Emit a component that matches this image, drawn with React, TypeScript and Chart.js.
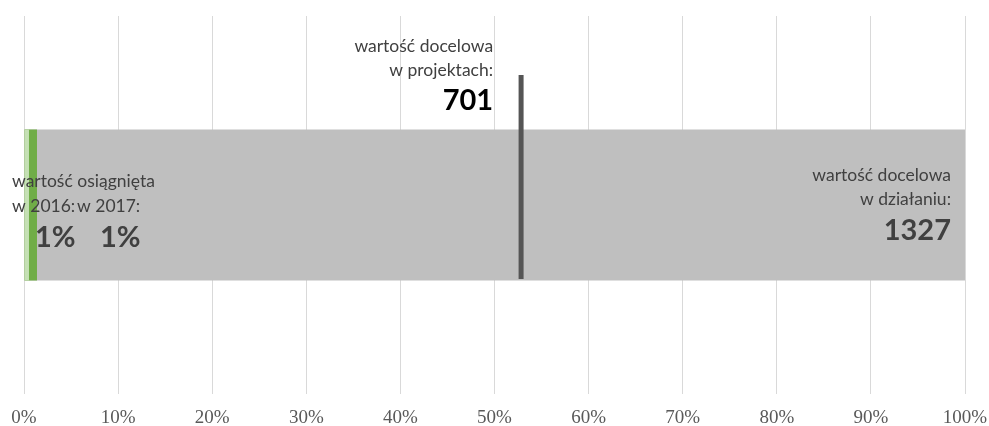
import React, { useEffect, useRef } from "react";
import { Chart, registerables } from "chart.js";

Chart.register(...registerables);

const categories = ["wskaźnik"];
const targetShare = [100];
const achieved2016 = [0.53];
const achieved2017 = [1.38];
const targetAction = 1327;
const targetProject = 701;
const projectShare = (targetProject / targetAction) * 100;
const markerX = [projectShare, projectShare];
const markerY = [0.304, 0.844];
const tickValues = [0, 10, 20, 30, 40, 50, 60, 70, 80, 90, 100];
const label2016 = "1%";
const label2017 = "1%";

const TEXT = "#404040";
const SANS = "Lato, 'Open Sans', sans-serif";

const labelPlugin = {
  id: "labels",
  afterDatasetsDraw(chart: any) {
    const { ctx } = chart;
    const x = chart.scales.x;
    ctx.save();
    ctx.fillStyle = TEXT;
    ctx.textBaseline = "middle";
    // project target
    const px = x.getPixelForValue(projectShare) - 28;
    ctx.textAlign = "right";
    ctx.font = `17.5px ${SANS}`;
    ctx.fillText("wartość docelowa", px, 46);
    ctx.fillText("w projektach:", px, 70);
    ctx.fillStyle = "#000";
    ctx.font = `bold 29px ${SANS}`;
    ctx.fillText(String(targetProject), px, 101);
    // action target
    ctx.fillStyle = TEXT;
    const rx = x.getPixelForValue(100) - 14;
    ctx.font = `17.5px ${SANS}`;
    ctx.fillText("wartość docelowa", rx, 175);
    ctx.fillText("w działaniu:", rx, 199);
    ctx.font = `bold 29px ${SANS}`;
    ctx.fillText(String(targetAction), rx, 231);
    // achieved
    ctx.textAlign = "left";
    const lx = x.getPixelForValue(0) - 12;
    ctx.font = `17.5px ${SANS}`;
    ctx.fillText("wartość osiągnięta", lx, 181);
    ctx.fillText("w 2016:", lx, 206);
    ctx.fillText("w 2017:", lx + 65, 206);
    ctx.font = `bold 29px ${SANS}`;
    ctx.fillText(label2016, lx + 23, 238);
    ctx.fillText(label2017, lx + 88, 238);
    ctx.restore();
  },
};

export default function App() {
  const ref = useRef<HTMLCanvasElement>(null);
  useEffect(() => {
    if (!ref.current) return;
    const chart = new Chart(ref.current, {
      type: "bar",
      data: {
        labels: categories,
        datasets: [
          {
            type: "line",
            data: markerX.map((v, i) => ({ x: v, y: markerY[i] })),
            xAxisID: "x",
            yAxisID: "y2",
            borderColor: "#555555",
            borderWidth: 5,
            pointRadius: 0,
            indexAxis: "x",
          } as any,
          {
            data: achieved2016,
            backgroundColor: "#c5e0b4",
            grouped: false,
            categoryPercentage: 1,
            barPercentage: 0.4,
          } as any,
          {
            data: achieved2017,
            backgroundColor: "#70ad47",
            grouped: false,
            categoryPercentage: 1,
            barPercentage: 0.4,
          } as any,
          {
            data: targetShare,
            backgroundColor: "#bfbfbf",
            grouped: false,
            categoryPercentage: 1,
            barPercentage: 0.4,
          } as any,
        ],
      },
      options: {
        indexAxis: "y",
        animation: false,
        responsive: true,
        maintainAspectRatio: false,
        layout: { padding: { left: 24, right: 24, top: 16, bottom: 0 } },
        plugins: { legend: { display: false }, tooltip: { enabled: false } },
        scales: {
          x: {
            type: "linear",
            min: 0,
            max: 100,
            offset: false,
            afterBuildTicks: (s: any) => {
              s.ticks = tickValues.map((v) => ({ value: v }));
            },
            afterFit: (s: any) => {
              s.height = 32;
              s.paddingLeft = 0;
              s.paddingRight = 0;
            },
            ticks: {
              callback: (v: any) => v + "%",
              color: "#595959",
              font: { family: "'Liberation Serif', serif", size: 19 },
              padding: 13,
            },
            grid: { color: "#d9d9d9", lineWidth: 1, drawTicks: false },
            border: { display: false },
          },
          y: { display: false },
          y2: {
            type: "linear",
            position: "left",
            min: 0,
            max: 1,
            offset: false,
            grace: 0,
            display: false,
          },
        },
      } as any,
      plugins: [labelPlugin],
    });
    return () => chart.destroy();
  }, []);
  return (
    <div style={{ position: "absolute", left: 0, top: 0, width: 989, height: 426 }}>
      <canvas ref={ref} />
    </div>
  );
}
